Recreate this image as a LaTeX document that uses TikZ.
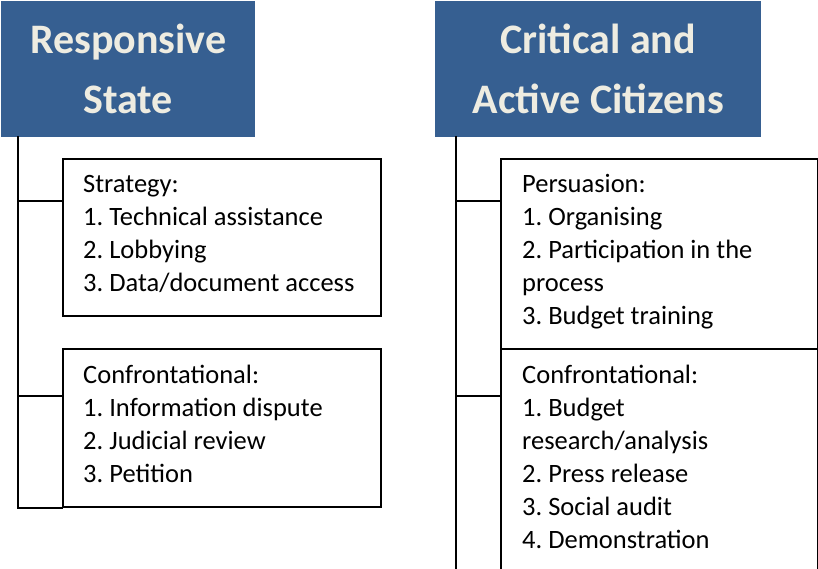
\documentclass[tikz,border=0pt]{standalone}
\usepackage{fontspec}
\setmainfont{Carlito}
\frenchspacing
\usetikzlibrary{positioning}

\definecolor{headblue}{RGB}{54,95,145}
\definecolor{headtext}{RGB}{238,236,225}

\tikzset{
    header/.style={fill=headblue, text=headtext, align=center, anchor=north west,
        inner sep=0pt, font=\fontsize{42}{60}\selectfont\bfseries},
    listbox/.style={draw, line width=1.8pt, anchor=north west, minimum width=318pt, inner sep=0pt},
    items/.style={anchor=north west, align=left, inner sep=0pt,
        font=\fontsize{26.5}{33}\selectfont},
    stem/.style={line width=1.8pt, line cap=rect}
}

\begin{document}
\begin{tikzpicture}[x=1pt,y=-1pt]
    \clip (0,0) rectangle (818,569);

    % headers
    \node[header, minimum width=254pt, minimum height=136pt] (state) at (1,1) {Responsive\\State};
    \node[header, minimum width=326pt, minimum height=136pt] (citizens) at (435,1) {Critical and\\Active Citizens};

    % left column
    \node[listbox, minimum height=157pt] (strategy) at (62,158) {};
    \node[listbox, minimum height=158pt] (confstate) at (62,348) {};
    \node[items] (strategytxt) at ([xshift=21pt,yshift=-11pt]strategy.north west)
        {\strut Strategy:\\1. Technical assistance\\2. Lobbying\\3. Data/document access};
    \node[items] (confstatetxt) at ([xshift=21pt,yshift=-12pt]confstate.north west)
        {\strut Confrontational:\\1. Information dispute\\2. Judicial review\\3. Petition};

    % right column
    \node[listbox, minimum width=317pt, minimum height=190pt] (persuasion) at (500,158) {};
    \node[listbox, minimum width=317pt, minimum height=230pt] (confcitizen) at (500,348) {};
    \node[items] (persuasiontxt) at ([xshift=22pt,yshift=-11pt]persuasion.north west)
        {\strut Persuasion:\\1. Organising\\2. Participation in the\\process\\3. Budget training};
    \node[items] (confcitizentxt) at ([xshift=22pt,yshift=-12pt]confcitizen.north west)
        {\strut Confrontational:\\1. Budget\\research/analysis\\2. Press release\\3. Social audit\\4. Demonstration};

    % stems and branches
    \coordinate (lstem) at (18,137);
    \coordinate (rstem) at (456,137);
    \coordinate (rend) at (456,580);

    \draw[stem] (lstem) |- (confstate.south west);
    \draw[stem] ([yshift=-43pt]strategy.north west -| lstem) -- ([yshift=-43pt]strategy.north west);
    \draw[stem] ([yshift=-48pt]confstate.north west -| lstem) -- ([yshift=-48pt]confstate.north west);

    \draw[stem] (rstem) -- (rend);
    \draw[stem] ([yshift=-43pt]persuasion.north west -| rstem) -- ([yshift=-43pt]persuasion.north west);
    \draw[stem] ([yshift=-48pt]confcitizen.north west -| rstem) -- ([yshift=-48pt]confcitizen.north west);

\end{tikzpicture}
\end{document}
